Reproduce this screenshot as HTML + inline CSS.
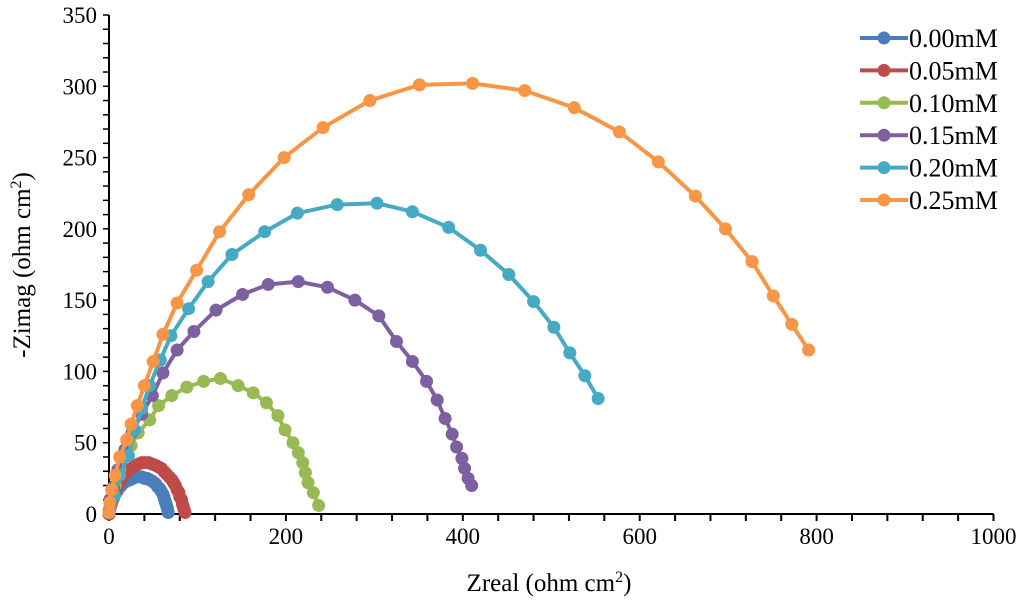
<!DOCTYPE html>
<html><head><meta charset="utf-8"><style>
html,body{margin:0;padding:0;background:#fff;}
svg{display:block;font-family:"Liberation Serif",serif;}
</style></head><body>
<svg id="chart" width="1024" height="609" viewBox="0 0 1024 609"></svg>
<script>
const xTicks=[0,200,400,600,800,1000];
const yTicks=[0,50,100,150,200,250,300,350];
const seriesNames=["0.00mM","0.05mM","0.10mM","0.15mM","0.20mM","0.25mM"];
const seriesColors=["#4a7ebb","#be4b48","#98b954","#7d60a0","#46aac5","#f79646"];
const s000=[[0,0],[1,3],[2,6],[3,9],[5,11],[7,14],[9,16],[11,18],[14,20],[17,22],[20,23],[24,24],[27,25],[31,26],[34,26],[37,26],[40,25],[43,25],[46,24],[49,23],[51,22],[53,21],[55,19],[57,18],[59,16],[61,14],[62,12],[63,10],[64,8],[65,6],[66,4],[67,1]];
const s005=[[0,0],[1,4],[3,8],[5,12],[7,15],[9,19],[12,22],[15,25],[18,28],[21,30],[25,32],[29,34],[33,35],[37,36],[41,36],[45,36],[49,35],[53,34],[56,33],[59,32],[62,30],[65,28],[68,26],[71,24],[73,22],[75,20],[77,17],[79,15],[80,12],[82,10],[83,7],[84,5],[85,3],[86,1]];
const s010=[[0,1],[2,10],[7,20],[12,31],[19,41],[25,48],[33,57],[46,66],[56,76],[71,83],[88,89],[107,93],[126,95],[146,90],[163,85],[178,78],[191,69],[199,59],[208,50],[214,43],[219,36],[222,29],[225,22],[231,15],[237,6]];
const s015=[[0,2],[1,10],[5,19],[10,31],[18,45],[26,57],[37,70],[49,83],[61,99],[77,115],[96,128],[121,143],[151,154],[180,161],[214,163],[247,159],[278,150],[305,139],[325,121],[343,107],[359,93],[371,80],[380,67],[388,56],[393,47],[399,39],[402,32],[406,25],[410,20]];
const s020=[[0,1],[1,4],[6,13],[12,27],[22,41],[29,59],[37,74],[46,90],[58,108],[70,125],[90,144],[112,163],[139,182],[176,198],[213,211],[258,217],[303,218],[343,212],[384,201],[420,185],[452,168],[480,149],[503,131],[521,113],[538,97],[553,81]];
const s025=[[0,1],[1,8],[3,17],[7,27],[12,40],[20,52],[25,63],[32,76],[40,90],[50,107],[61,126],[77,148],[99,171],[125,198],[158,224],[198,250],[242,271],[295,290],[351,301],[411,302],[470,297],[526,285],[577,268],[621,247],[663,223],[697,200],[727,177],[751,153],[772,133],[791,115]];
const allSeries=[s000,s005,s010,s015,s020,s025];

const NS="http://www.w3.org/2000/svg";
const svg=document.getElementById('chart');
const X0=109,X1=993.5,Y0=514,Y1=15;
function sx(v){return X0+(v-0)/(1000-0)*(X1-X0);}
function sy(v){return Y0-(v-0)/(350-0)*(Y0-Y1);}
function mk(tag,attrs,parent){const e=document.createElementNS(NS,tag);for(const k in attrs)e.setAttribute(k,attrs[k]);(parent||svg).appendChild(e);return e;}

const axes=mk('g',{});


const xl=mk('line',{x1:X0-1,y1:Y0,x2:X1,y2:Y0,stroke:'#000','stroke-width':2},axes);


const yl=mk('line',{x1:X0,y1:Y0+1,x2:X0,y2:Y1,stroke:'#000','stroke-width':2},axes);


for(let v=0;v<=1000;v+=40){
  const t=mk('line',{x1:sx(v),y1:Y0,x2:sx(v),y2:Y0+7,stroke:'#000','stroke-width':2},axes);
  
  
}
for(let v=0;v<=350;v+=10){
  const t=mk('line',{x1:X0-6,y1:sy(v),x2:X0,y2:sy(v),stroke:'#000','stroke-width':1.5},axes);
  
  
}
xTicks.forEach(v=>{
  const t=mk('text',{x:sx(v),y:Y0+30,'text-anchor':'middle','font-size':23,fill:'#000'},axes);
  t.textContent=v;
  
  
});
yTicks.forEach(v=>{
  const t=mk('text',{x:X0-12,y:sy(v)+8,'text-anchor':'end','font-size':23,fill:'#000'},axes);
  t.textContent=v;
  
  
});
const xt=mk('text',{x:549,y:591,'text-anchor':'middle','font-size':25,fill:'#000'});
xt.innerHTML='Zreal (ohm cm<tspan dy="-9" font-size="16">2</tspan><tspan dy="9">)</tspan>';


const yt=mk('text',{x:0,y:0,'text-anchor':'middle','font-size':25,fill:'#000',transform:'translate(30,265) rotate(-90)'});
yt.innerHTML='-Zimag (ohm cm<tspan dy="-9" font-size="16">2</tspan><tspan dy="9">)</tspan>';



allSeries.forEach((data,i)=>{
  const g=mk('g',{});
  
  
  const pts=data.map(p=>sx(p[0]).toFixed(1)+','+sy(p[1]).toFixed(1)).join(' ');
  const pl=mk('polyline',{points:pts,fill:'none',stroke:seriesColors[i],'stroke-width':4,'stroke-linejoin':'round'},g);
  
  
  data.forEach(p=>{
    const c=mk('circle',{cx:sx(p[0]),cy:sy(p[1]),r:6.5,fill:seriesColors[i]},g);
    
    
  });
});

const lg=mk('g',{});


seriesNames.forEach((n,i)=>{
  const y=38+i*32.4;
  const e=mk('g',{},lg);
  
  
  mk('line',{x1:860,y1:y,x2:908,y2:y,stroke:seriesColors[i],'stroke-width':4},e);
  mk('circle',{cx:884,cy:y,r:6.5,fill:seriesColors[i]},e);
  const t=mk('text',{x:909,y:y+9,'font-size':26,fill:'#000'},e);
  t.textContent=n;
});
</script>
</body></html>
